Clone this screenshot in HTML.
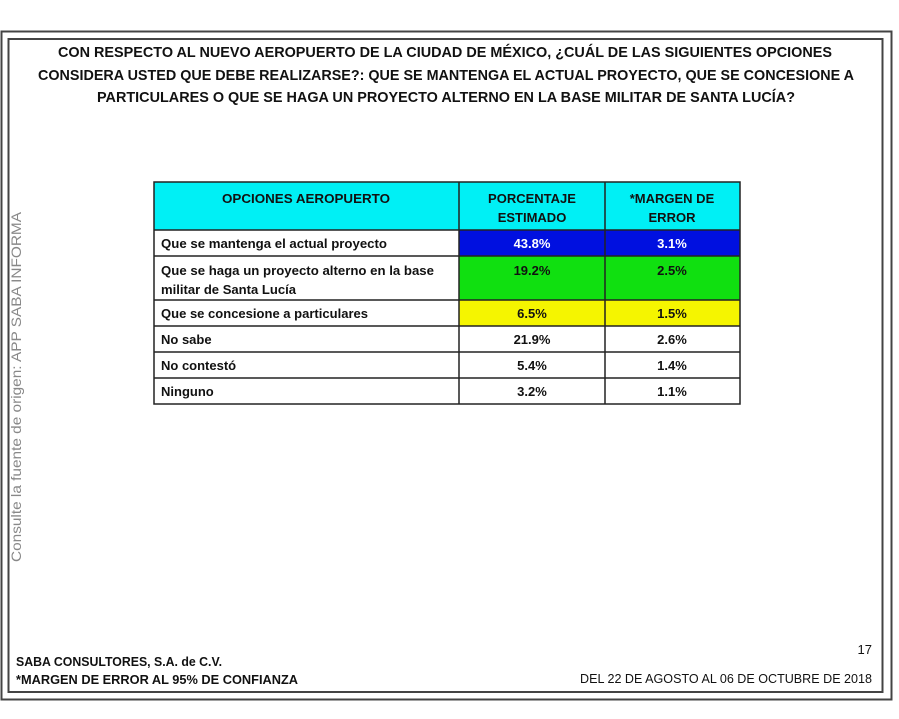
<!DOCTYPE html>
<html><head><meta charset="utf-8"><style>
html,body{margin:0;padding:0;background:#fff;}
svg{display:block;}
text{font-family:"Liberation Sans",sans-serif;font-weight:bold;fill:#111;}
</style></head><body>
<svg width="899" height="719" viewBox="0 0 899 719" xmlns="http://www.w3.org/2000/svg">
<rect x="1.5" y="31.5" width="890" height="668" fill="none" stroke="#444" stroke-width="2"/>
<rect x="8.5" y="39" width="874" height="653" fill="none" stroke="#444" stroke-width="2"/>
<g font-size="15">
<text x="445" y="57" text-anchor="middle" textLength="774" lengthAdjust="spacingAndGlyphs">CON RESPECTO AL NUEVO AEROPUERTO DE LA CIUDAD DE MÉXICO, ¿CUÁL DE LAS SIGUIENTES OPCIONES</text>
<text x="446" y="80" text-anchor="middle" textLength="816" lengthAdjust="spacingAndGlyphs">CONSIDERA USTED QUE DEBE REALIZARSE?: QUE SE MANTENGA EL ACTUAL PROYECTO, QUE SE CONCESIONE A</text>
<text x="446" y="102" text-anchor="middle" textLength="698" lengthAdjust="spacingAndGlyphs">PARTICULARES O QUE SE HAGA UN PROYECTO ALTERNO EN LA BASE MILITAR DE SANTA LUCÍA?</text>
</g>
<text transform="translate(21,562) rotate(-90)" font-size="14" style="font-weight:normal;fill:#888" textLength="350" lengthAdjust="spacingAndGlyphs">Consulte la fuente de origen: APP SABA INFORMA</text>
<rect x="154" y="182" width="586" height="48" fill="#00f0f5"/>
<rect x="459" y="230" width="281" height="26" fill="#0010e0"/>
<rect x="459" y="256" width="281" height="44" fill="#10e010"/>
<rect x="459" y="300" width="281" height="26" fill="#f5f500"/>
<g stroke="#222" stroke-width="1.5" fill="none">
<rect x="154" y="182" width="586" height="222"/>
<line x1="154" y1="230" x2="740" y2="230"/>
<line x1="154" y1="256" x2="740" y2="256"/>
<line x1="154" y1="300" x2="740" y2="300"/>
<line x1="154" y1="326" x2="740" y2="326"/>
<line x1="154" y1="352" x2="740" y2="352"/>
<line x1="154" y1="378" x2="740" y2="378"/>
<line x1="459" y1="182" x2="459" y2="404"/>
<line x1="605" y1="182" x2="605" y2="404"/>
</g>
<g font-size="13">
<text x="306" y="203" text-anchor="middle" textLength="168" lengthAdjust="spacingAndGlyphs">OPCIONES AEROPUERTO</text>
<text x="532" y="203" text-anchor="middle">PORCENTAJE</text>
<text x="532" y="222" text-anchor="middle">ESTIMADO</text>
<text x="672" y="203" text-anchor="middle">*MARGEN DE</text>
<text x="672" y="222" text-anchor="middle">ERROR</text>
<text x="161" y="248" textLength="226" lengthAdjust="spacingAndGlyphs">Que se mantenga el actual proyecto</text>
<text x="161" y="275" textLength="273" lengthAdjust="spacingAndGlyphs">Que se haga un proyecto alterno en la base</text>
<text x="161" y="294" textLength="135" lengthAdjust="spacingAndGlyphs">militar de Santa Lucía</text>
<text x="161" y="318" textLength="207" lengthAdjust="spacingAndGlyphs">Que se concesione a particulares</text>
<text x="161" y="344">No sabe</text>
<text x="161" y="370">No contestó</text>
<text x="161" y="396">Ninguno</text>
<text x="532" y="248" text-anchor="middle" style="fill:#fff">43.8%</text>
<text x="672" y="248" text-anchor="middle" style="fill:#fff">3.1%</text>
<text x="532" y="275" text-anchor="middle">19.2%</text>
<text x="672" y="275" text-anchor="middle">2.5%</text>
<text x="532" y="318" text-anchor="middle">6.5%</text>
<text x="672" y="318" text-anchor="middle">1.5%</text>
<text x="532" y="344" text-anchor="middle">21.9%</text>
<text x="672" y="344" text-anchor="middle">2.6%</text>
<text x="532" y="370" text-anchor="middle">5.4%</text>
<text x="672" y="370" text-anchor="middle">1.4%</text>
<text x="532" y="396" text-anchor="middle">3.2%</text>
<text x="672" y="396" text-anchor="middle">1.1%</text>
</g>
<g font-size="13">
<text x="16" y="666" textLength="206" lengthAdjust="spacingAndGlyphs">SABA CONSULTORES, S.A. de C.V.</text>
<text x="16" y="684" textLength="282" lengthAdjust="spacingAndGlyphs">*MARGEN DE ERROR AL 95% DE CONFIANZA</text>
<text x="872" y="654" text-anchor="end" style="font-weight:normal">17</text>
<text x="872" y="683" text-anchor="end" style="font-weight:normal" textLength="292" lengthAdjust="spacingAndGlyphs">DEL 22 DE AGOSTO AL 06 DE OCTUBRE DE 2018</text>
</g>
</svg>
</body></html>
